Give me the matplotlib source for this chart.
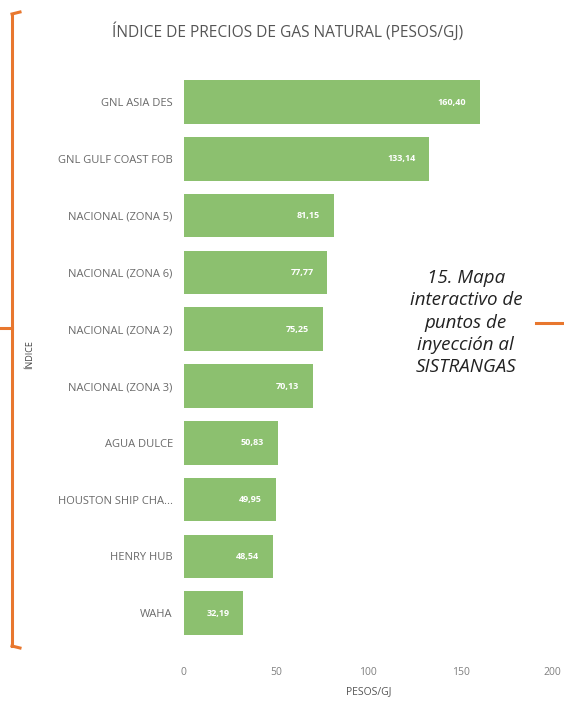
import matplotlib.pyplot as plt
from matplotlib.lines import Line2D

categorias = ['GNL ASIA DES', 'GNL GULF COAST FOB', 'NACIONAL (ZONA 5)', 'NACIONAL (ZONA 6)',
              'NACIONAL (ZONA 2)', 'NACIONAL (ZONA 3)', 'AGUA DULCE', 'HOUSTON SHIP CHA...',
              'HENRY HUB', 'WAHA']
precios = [160.40, 133.14, 81.15, 77.77, 75.25, 70.13, 50.83, 49.95, 48.54, 32.19]
ticks_x = [0, 50, 100, 150, 200]

plt.rcParams['font.family'] = ['Open Sans', 'DejaVu Sans']
fig = plt.figure(figsize=(5.64, 7.03), dpi=100)
ax = fig.add_axes([0.326, 0.0873, 0.654, 0.808])

pos = list(range(len(categorias)))
ax.barh(pos, precios, height=0.77, color='#8cc06f')
for p, v in zip(pos, precios):
    ax.annotate(f'{v:.2f}'.replace('.', ','), (v, p), xytext=(-10, 0), textcoords='offset points',
                ha='right', va='center', color='white', fontsize=6.5, fontweight='bold')

ax.set_ylim(len(categorias) - 0.5, -0.5)
ax.set_xlim(0, 200)
ax.set_yticks(pos)
ax.set_yticklabels(categorias, fontsize=8, color='#6a6a6a')
ax.set_xticks(ticks_x)
ax.set_xticklabels([str(t) for t in ticks_x], fontsize=7.5, color='#808080')
ax.tick_params(length=0, pad=8)
ax.tick_params(axis='x', pad=18)
for s in ax.spines.values():
    s.set_visible(False)
ax.set_xlabel('PESOS/GJ', fontsize=7.5, color='#555555', labelpad=6)

fig.text(0.509, 0.955, 'ÍNDICE DE PRECIOS DE GAS NATURAL (PESOS/GJ)', ha='center', va='center',
         fontsize=11.2, color='#555555')
fig.text(0.053, 0.495, 'ÍNDICE', rotation=90, ha='center', va='center', fontsize=6.5, color='#444444')

fig.text(0.826, 0.541, '15. Mapa\ninteractivo de\npuntos de\ninyección al\nSISTRANGAS',
         ha='center', va='center', fontsize=13.5, style='italic', color='#222222', linespacing=1.3)

# corchete naranja
orange = '#e8772e'
H = 703.0
def yy(p):
    return 1 - p / H
fig.add_artist(Line2D([12 / 564, 12 / 564], [yy(14), yy(646)], color=orange, lw=2.2))
fig.add_artist(Line2D([12 / 564, 20 / 564], [yy(14), yy(12)], color=orange, lw=2.2))
fig.add_artist(Line2D([12 / 564, 20 / 564], [yy(646), yy(648)], color=orange, lw=2.2))
fig.add_artist(Line2D([0, 12 / 564], [yy(328), yy(328)], color=orange, lw=2.2))
fig.add_artist(Line2D([536 / 564, 562 / 564], [yy(323), yy(323)], color=orange, lw=2.2))

fig.savefig('out.png', dpi=100)
